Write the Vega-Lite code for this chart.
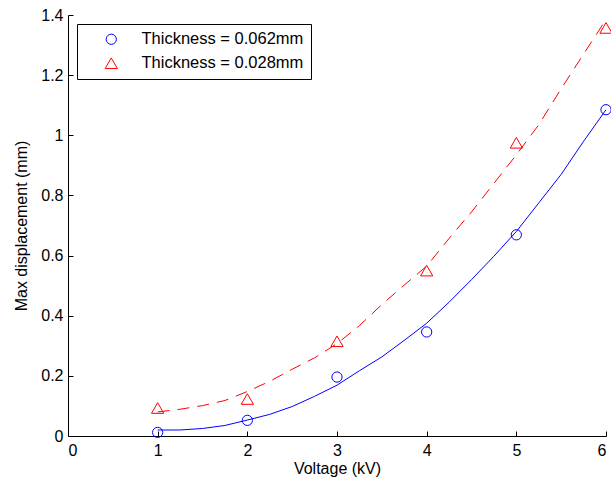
{
  "$schema": "https://vega.github.io/schema/vega-lite/v6.json",
  "autosize": "none",
  "width": 538,
  "height": 421,
  "padding": {"left": 68, "top": 15, "right": 5, "bottom": 45},
  "background": "white",
  "config": {
    "view": {"stroke": null},
    "font": "Liberation Sans",
    "axis": {
      "grid": false,
      "domainColor": "black",
      "tickColor": "black",
      "labelColor": "black",
      "titleColor": "black",
      "labelFont": "Liberation Sans",
      "titleFont": "Liberation Sans",
      "labelFontSize": 16,
      "titleFontSize": 16,
      "titleFontWeight": "normal",
      "tickSize": -5,
      "domainWidth": 1,
      "tickWidth": 1
    }
  },
  "datasets": {
    "pts": [
      {"voltage": 1, "disp": 0.012, "series": "Thickness = 0.062mm"},
      {"voltage": 2, "disp": 0.052, "series": "Thickness = 0.062mm"},
      {"voltage": 3, "disp": 0.196, "series": "Thickness = 0.062mm"},
      {"voltage": 4, "disp": 0.346, "series": "Thickness = 0.062mm"},
      {"voltage": 5, "disp": 0.669, "series": "Thickness = 0.062mm"},
      {"voltage": 6, "disp": 1.085, "series": "Thickness = 0.062mm"},
      {"voltage": 1, "disp": 0.093, "series": "Thickness = 0.028mm"},
      {"voltage": 2, "disp": 0.123, "series": "Thickness = 0.028mm"},
      {"voltage": 3, "disp": 0.315, "series": "Thickness = 0.028mm"},
      {"voltage": 4, "disp": 0.55, "series": "Thickness = 0.028mm"},
      {"voltage": 5, "disp": 0.975, "series": "Thickness = 0.028mm"},
      {"voltage": 6, "disp": 1.357, "series": "Thickness = 0.028mm"}
    ],
    "fit": [
      {"voltage": 1, "disp": 0.02, "series": "Thickness = 0.062mm"},
      {"voltage": 1.25, "disp": 0.02, "series": "Thickness = 0.062mm"},
      {"voltage": 1.5, "disp": 0.025, "series": "Thickness = 0.062mm"},
      {"voltage": 1.75, "disp": 0.035, "series": "Thickness = 0.062mm"},
      {"voltage": 2, "disp": 0.053, "series": "Thickness = 0.062mm"},
      {"voltage": 2.25, "disp": 0.072, "series": "Thickness = 0.062mm"},
      {"voltage": 2.5, "disp": 0.098, "series": "Thickness = 0.062mm"},
      {"voltage": 2.75, "disp": 0.132, "series": "Thickness = 0.062mm"},
      {"voltage": 3, "disp": 0.169, "series": "Thickness = 0.062mm"},
      {"voltage": 3.25, "disp": 0.217, "series": "Thickness = 0.062mm"},
      {"voltage": 3.5, "disp": 0.263, "series": "Thickness = 0.062mm"},
      {"voltage": 3.75, "disp": 0.318, "series": "Thickness = 0.062mm"},
      {"voltage": 4, "disp": 0.375, "series": "Thickness = 0.062mm"},
      {"voltage": 4.25, "disp": 0.445, "series": "Thickness = 0.062mm"},
      {"voltage": 4.5, "disp": 0.52, "series": "Thickness = 0.062mm"},
      {"voltage": 4.75, "disp": 0.598, "series": "Thickness = 0.062mm"},
      {"voltage": 5, "disp": 0.68, "series": "Thickness = 0.062mm"},
      {"voltage": 5.25, "disp": 0.775, "series": "Thickness = 0.062mm"},
      {"voltage": 5.5, "disp": 0.87, "series": "Thickness = 0.062mm"},
      {"voltage": 5.75, "disp": 0.98, "series": "Thickness = 0.062mm"},
      {"voltage": 6, "disp": 1.085, "series": "Thickness = 0.062mm"},
      {"voltage": 1, "disp": 0.08, "series": "Thickness = 0.028mm"},
      {"voltage": 1.25, "disp": 0.089, "series": "Thickness = 0.028mm"},
      {"voltage": 1.5, "disp": 0.101, "series": "Thickness = 0.028mm"},
      {"voltage": 1.75, "disp": 0.118, "series": "Thickness = 0.028mm"},
      {"voltage": 2, "disp": 0.148, "series": "Thickness = 0.028mm"},
      {"voltage": 2.25, "disp": 0.182, "series": "Thickness = 0.028mm"},
      {"voltage": 2.5, "disp": 0.222, "series": "Thickness = 0.028mm"},
      {"voltage": 2.75, "disp": 0.26, "series": "Thickness = 0.028mm"},
      {"voltage": 3, "disp": 0.307, "series": "Thickness = 0.028mm"},
      {"voltage": 3.25, "disp": 0.367, "series": "Thickness = 0.028mm"},
      {"voltage": 3.5, "disp": 0.437, "series": "Thickness = 0.028mm"},
      {"voltage": 3.75, "disp": 0.502, "series": "Thickness = 0.028mm"},
      {"voltage": 4, "disp": 0.565, "series": "Thickness = 0.028mm"},
      {"voltage": 4.25, "disp": 0.657, "series": "Thickness = 0.028mm"},
      {"voltage": 4.5, "disp": 0.745, "series": "Thickness = 0.028mm"},
      {"voltage": 4.75, "disp": 0.84, "series": "Thickness = 0.028mm"},
      {"voltage": 5, "disp": 0.935, "series": "Thickness = 0.028mm"},
      {"voltage": 5.25, "disp": 1.035, "series": "Thickness = 0.028mm"},
      {"voltage": 5.5, "disp": 1.155, "series": "Thickness = 0.028mm"},
      {"voltage": 5.75, "disp": 1.27, "series": "Thickness = 0.028mm"},
      {"voltage": 6, "disp": 1.385, "series": "Thickness = 0.028mm"}
    ]
  },
  "layer": [
    {
      "data": {"name": "fit"},
      "transform": [{"filter": "datum.series === 'Thickness = 0.062mm'"}],
      "mark": {"type": "line", "strokeWidth": 1, "clip": true, "color": "#0000ff"},
      "encoding": {
        "x": {"field": "voltage", "type": "quantitative"},
        "y": {"field": "disp", "type": "quantitative"}
      }
    },
    {
      "data": {"name": "fit"},
      "transform": [{"filter": "datum.series === 'Thickness = 0.028mm'"}],
      "mark": {"type": "line", "strokeWidth": 1, "clip": true, "color": "#ff0000", "strokeDash": [12, 8]},
      "encoding": {
        "x": {"field": "voltage", "type": "quantitative"},
        "y": {"field": "disp", "type": "quantitative"}
      }
    },
    {
      "data": {"name": "pts"},
      "mark": {"type": "point", "filled": false, "strokeWidth": 1, "opacity": 1},
      "encoding": {
        "x": {
          "field": "voltage", "type": "quantitative",
          "scale": {"domain": [0, 6], "nice": false},
          "axis": {"values": [0, 1, 2, 3, 4, 5, 6], "format": "~g", "title": "Voltage (kV)", "labelPadding": 11, "titlePadding": 2}
        },
        "y": {
          "field": "disp", "type": "quantitative",
          "scale": {"domain": [0, 1.4], "nice": false},
          "axis": {"values": [0, 0.2, 0.4, 0.6, 0.8, 1, 1.2, 1.4], "format": "~g", "title": "Max displacement (mm)", "labelPadding": 10, "titlePadding": 11}
        },
        "color": {
          "field": "series", "type": "nominal",
          "scale": {"domain": ["Thickness = 0.062mm", "Thickness = 0.028mm"], "range": ["#0000ff", "#ff0000"]},
          "legend": {
            "title": null, "orient": "none", "legendX": 9, "legendY": 9,
            "strokeColor": "black", "fillColor": "white", "padding": 7,
            "labelFontSize": 16.5, "labelFont": "Liberation Sans", "labelColor": "black", "labelLimit": 400,
            "symbolOffset": 19, "labelOffset": 22, "rowPadding": 7, "symbolStrokeWidth": 1, "symbolSize": 110,
            "encode": {"symbols": {"update": {"size": {"signal": "datum.value === 'Thickness = 0.028mm' ? 140 : 100"}}}}
          }
        },
        "shape": {
          "field": "series", "type": "nominal",
          "scale": {"domain": ["Thickness = 0.062mm", "Thickness = 0.028mm"], "range": ["circle", "triangle-up"]},
          "legend": {
            "title": null, "orient": "none", "legendX": 9, "legendY": 9,
            "strokeColor": "black", "fillColor": "white", "padding": 7,
            "labelFontSize": 16.5, "labelFont": "Liberation Sans", "labelColor": "black", "labelLimit": 400,
            "symbolOffset": 19, "labelOffset": 22, "rowPadding": 7, "symbolStrokeWidth": 1, "symbolSize": 110,
            "encode": {"symbols": {"update": {"size": {"signal": "datum.value === 'Thickness = 0.028mm' ? 140 : 100"}}}}
          }
        },
        "size": {
          "field": "series", "type": "nominal",
          "scale": {"domain": ["Thickness = 0.062mm", "Thickness = 0.028mm"], "range": [105, 150]},
          "legend": null
        }
      }
    }
  ]
}
